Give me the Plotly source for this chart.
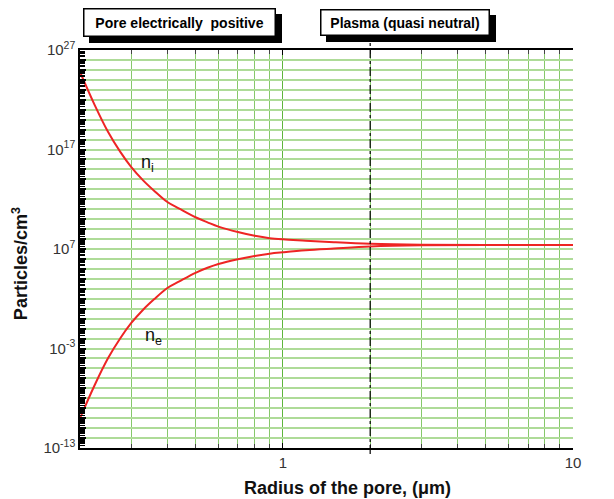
import plotly.graph_objects as go

# ---- data ----
radius_um = [0.2, 0.225, 0.25, 0.275, 0.3, 0.33, 0.36, 0.4, 0.44, 0.5, 0.55, 0.6, 0.7, 0.8, 0.9, 1.0, 1.2, 1.5, 2.0, 3.0, 5.0, 10.0]
ni_log10 = [24.8, 21.44, 18.76, 16.79, 15.26, 13.9, 12.86, 11.72, 11.05, 10.19, 9.68, 9.25, 8.7, 8.33, 8.09, 7.97, 7.84, 7.68, 7.52, 7.42, 7.4, 7.4]
ne_log10 = [-10.0, -6.64, -3.96, -1.99, -0.46, 0.9, 1.94, 3.08, 3.75, 4.61, 5.12, 5.5, 5.98, 6.3, 6.53, 6.67, 6.88, 7.05, 7.25, 7.37, 7.4, 7.4]
boundary_radius = 2.0
region_labels = ["Pore electrically  positive", "Plasma (quasi neutral)"]
y_exponents = list(range(-13, 28))
y_label_exponents = [-13, -3, 7, 17, 27]
x_minor_vals = [0.3, 0.4, 0.5, 0.6, 0.7, 0.8, 0.9, 2, 3, 4, 5, 6, 7, 8, 9]
x_major_vals = [1, 10]
x_major_text = ["1", "10"]

ni = [10 ** v for v in ni_log10]
ne = [10 ** v for v in ne_log10]

FONT = "Liberation Sans, Arial, sans-serif"
RED = "#ee2424"
GRID_DARK = "#5fb53c"
GRID_LIGHT = "#aedb98"
GRID_X = "#86c86a"

ytickvals = [10.0 ** k for k in y_exponents]
yticktext = [f"10<sup>{k}</sup>" if k in y_label_exponents else "" for k in y_exponents]
yeven = [10.0 ** k for k in y_exponents if k % 2 == 0]

fig = go.Figure()
for vals in (ni, ne):
    fig.add_trace(go.Scatter(x=radius_um, y=vals, mode="lines",
                             line=dict(color=RED, width=2, shape="spline", smoothing=1.0, simplify=False),
                             showlegend=False, hoverinfo="skip"))

yrange = [-13, 27]
label_y = dict(type="log", range=yrange, tickmode="array", tickvals=ytickvals, ticktext=yticktext,
               ticks="inside", ticklen=6, tickwidth=1.8, tickcolor="black",
               showline=True, linecolor="black", linewidth=1.5, zeroline=False,
               tickfont=dict(family=FONT, size=15, color="#333"),
               minor=dict(dtick="D1", ticks="inside", ticklen=5, tickcolor="black", tickwidth=1, showgrid=False))

fig.update_layout(
    width=614, height=499, autosize=False,
    margin=dict(l=80, r=41, t=50, b=51),
    paper_bgcolor="white", plot_bgcolor="white",
    xaxis=dict(type="log", range=[-0.69897, 1], tickmode="array", tickvals=x_major_vals, ticktext=x_major_text,
               ticks="inside", ticklen=5, tickcolor="black", tickwidth=1.2,
               showgrid=True, gridcolor=GRID_DARK, gridwidth=1.2,
               showline=True, linecolor="black", linewidth=1.5, mirror="ticks", zeroline=False,
               tickfont=dict(family=FONT, size=15, color="#333"),
               minor=dict(tickmode="array", tickvals=x_minor_vals, ticks="inside", ticklen=4,
                          tickcolor="#444", showgrid=True, gridcolor=GRID_X, gridwidth=1.2)),
    yaxis=dict(**label_y, side="left", showgrid=True, gridcolor=GRID_LIGHT, gridwidth=1.5),
    yaxis2=dict(**label_y, side="right", overlaying="y", showgrid=False),
    yaxis3=dict(type="log", range=yrange, tickmode="array", tickvals=yeven, overlaying="y", side="left",
                showticklabels=False, ticks="", showgrid=True, gridcolor=GRID_DARK, gridwidth=1.2,
                showline=False, zeroline=False),
)

# boundary line between the two regions
fig.add_shape(type="line", xref="x", yref="paper", x0=boundary_radius, x1=boundary_radius, y0=-0.015, y1=1.093,
              line=dict(color="black", width=1.2, dash="dashdot"))

# region header boxes with drop shadows
boxes = [(region_labels[0], 0.2018, 1.068, 190, 26), (region_labels[1], 0.660, 1.069, 167, 24)]
for text, bx, by, w, h in boxes:
    for shadow in (True, False):
        fig.add_annotation(x=bx, y=by, xref="paper", yref="paper", xanchor="center", yanchor="middle",
                           text=f"<b>{text}</b>", showarrow=False,
                           xshift=6 if shadow else 0, yshift=-6 if shadow else 0, width=w, height=h,
                           bgcolor="black" if shadow else "white", bordercolor="black",
                           borderwidth=1.5, borderpad=0, font=dict(family=FONT, size=14, color="black"))

# axis titles
fig.add_annotation(x=0.5426, y=-0.1005, xref="paper", yref="paper", text="<b>Radius of the pore, (μm)</b>",
                   showarrow=False, xanchor="center", yanchor="middle", font=dict(family=FONT, size=18, color="#111"))
fig.add_annotation(x=-0.1217, y=0.462, xref="paper", yref="paper", text="<b>Particles/cm<sup>3</sup></b>",
                   showarrow=False, textangle=-90, xanchor="center", yanchor="middle",
                   font=dict(family=FONT, size=18, color="#111"))

# curve labels
fig.add_annotation(x=-0.467, y=15.64, xref="x", yref="y", text="n<sub>i</sub>", showarrow=False,
                   font=dict(family=FONT, size=18, color="#111"))
fig.add_annotation(x=-0.447, y=-1.84, xref="x", yref="y", text="n<sub>e</sub>", showarrow=False,
                   font=dict(family=FONT, size=18, color="#111"))

fig.write_html("out.html")
